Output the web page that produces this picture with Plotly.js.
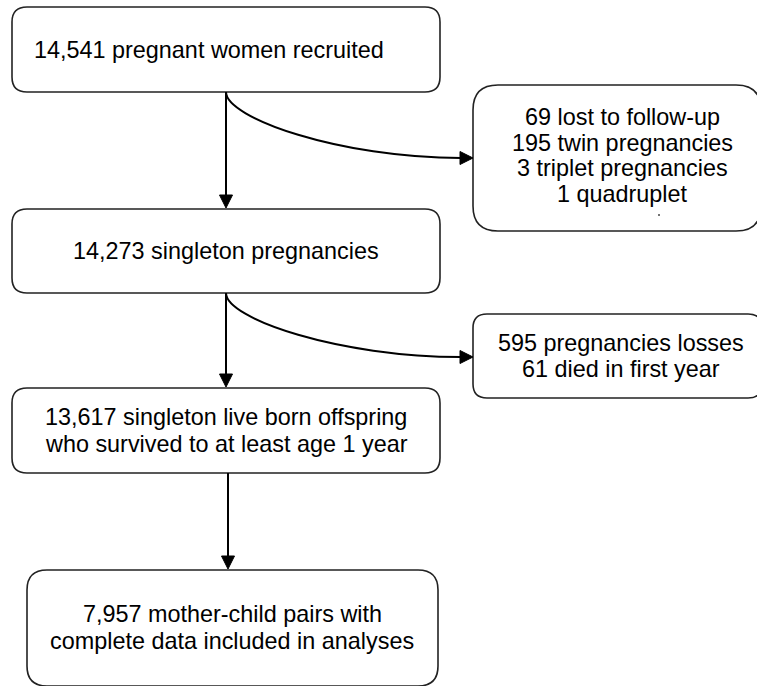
<!DOCTYPE html>
<html>
<head>
<meta charset="utf-8">
<script src="https://cdn.plot.ly/plotly-3.0.1.min.js"></script>
<style>html,body{margin:0;padding:0;background:#fff;}#chart{width:757px;height:686px;}</style>
</head>
<body>
<div id="chart"></div>
<script>
// ---- Data (flow counts and labels) ----
const mainSteps = [
  ["14,541 pregnant women recruited"],
  ["14,273 singleton pregnancies"],
  ["13,617 singleton live born offspring", "who survived to at least age 1 year"],
  ["7,957 mother-child pairs with", "complete data included in analyses"]
];
const exclusionSteps = [
  ["69 lost to follow-up", "195 twin pregnancies", "3 triplet pregnancies", "1 quadruplet"],
  ["595 pregnancies losses", "61 died in first year"]
];

// ---- Layout geometry (pixel-like data units; y axis reversed) ----
const mainGeom = [
  {x0: 12, x1: 440, y0: 7,   y1: 92,  r: 15, tx: 209, ty: [50]},
  {x0: 12, x1: 440, y0: 209, y1: 293, r: 15, tx: 226, ty: [251]},
  {x0: 12, x1: 440, y0: 388, y1: 473, r: 15, tx: 226, ty: [417, 444]},
  {x0: 27, x1: 438, y0: 570, y1: 686, r: 20, tx: 232, ty: [614, 641]}
];
const sideGeom = [
  {x0: 473, x1: 761, y0: 85,  y1: 231, r: 25, tx: 622, ty: [117, 143, 168, 194], from: 0, ay: 158},
  {x0: 473, x1: 762, y0: 314, y1: 398, r: 14, tx: 621, ty: [343, 369], from: 1, ay: 357}
];
const arrowX = [226, 226, 228];

const FONT = "Liberation Sans, Arial, sans-serif";
const FS = 23.4;
const BORDER = {color: "#222222", width: 1.6};
const ARROW = {color: "#000000", width: 2};

function roundRect(g) {
  const {x0, x1, y0, y1, r} = g;
  return `M ${x0 + r},${y0} L ${x1 - r},${y0} Q ${x1},${y0} ${x1},${y0 + r} ` +
         `L ${x1},${y1 - r} Q ${x1},${y1} ${x1 - r},${y1} L ${x0 + r},${y1} ` +
         `Q ${x0},${y1} ${x0},${y1 - r} L ${x0},${y0 + r} Q ${x0},${y0} ${x0 + r},${y0} Z`;
}

const shapes = [];
const annotations = [];

function addBox(g, lines) {
  shapes.push({type: "path", path: roundRect(g), xref: "x", yref: "y",
    line: BORDER, fillcolor: "rgba(255,255,255,0)", layer: "above"});
  lines.forEach((t, i) => {
    annotations.push({x: g.tx, y: g.ty[i], xref: "x", yref: "y", text: t,
      showarrow: false, xanchor: "center", yanchor: "middle",
      font: {family: FONT, size: FS, color: "#000000"}});
  });
}

mainSteps.forEach((lines, i) => addBox(mainGeom[i], lines));
exclusionSteps.forEach((lines, i) => addBox(sideGeom[i], lines));

// vertical arrows between main boxes
const AL = 13, AW = 6.5;
for (let i = 0; i < mainGeom.length - 1; i++) {
  const x = arrowX[i], ys = mainGeom[i].y1, ye = mainGeom[i + 1].y0 - 1;
  shapes.push({type: "line", x0: x, x1: x, y0: ys, y1: ye - AL + 1, xref: "x", yref: "y", line: ARROW});
  shapes.push({type: "path", xref: "x", yref: "y",
    path: `M ${x},${ye} L ${x - AW},${ye - AL} L ${x + AW},${ye - AL} Z`,
    fillcolor: "#000000", line: {color: "#000000", width: 1}});
}

// curved arrows to exclusion boxes
sideGeom.forEach(g => {
  const m = mainGeom[g.from];
  const x = arrowX[g.from], ys = m.y1, xe = g.x0, ye = g.ay;
  shapes.push({type: "path", xref: "x", yref: "y",
    path: `M ${x},${ys} C ${x},${ys + 26} ${x + 114},${ye} ${xe - AL + 1},${ye}`,
    line: ARROW});
  shapes.push({type: "path", xref: "x", yref: "y",
    path: `M ${xe},${ye} L ${xe - AL},${ye - AW} L ${xe - AL},${ye + AW} Z`,
    fillcolor: "#000000", line: {color: "#000000", width: 1}});
});

// small stray mark inside first exclusion box (as in source)
shapes.push({type: "circle", xref: "x", yref: "y", x0: 658, x1: 660, y0: 214, y1: 216,
  fillcolor: "#444444", line: {width: 0}});

const layout = {
  width: 757, height: 686,
  margin: {l: 0, r: 0, t: 0, b: 0},
  paper_bgcolor: "#ffffff", plot_bgcolor: "#ffffff",
  xaxis: {range: [0, 757], visible: false, fixedrange: true},
  yaxis: {range: [686, 0], visible: false, fixedrange: true},
  shapes: shapes,
  annotations: annotations,
  showlegend: false
};

Plotly.newPlot("chart", [{x: [], y: [], type: "scatter", mode: "markers", hoverinfo: "skip"}], layout, {staticPlot: true, displayModeBar: false});
</script>
</body>
</html>
